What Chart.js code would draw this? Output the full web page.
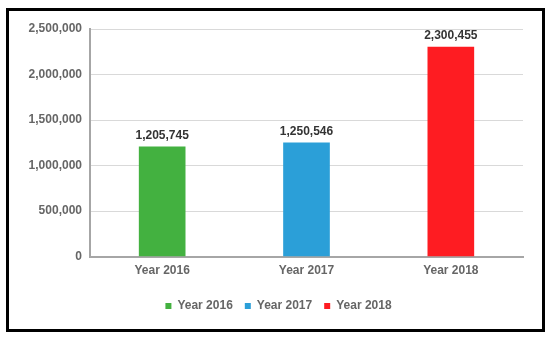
<!DOCTYPE html>
<html>
<head>
<meta charset="utf-8">
<script src="https://cdn.jsdelivr.net/npm/chart.js@4"></script>
<style>
html,body{margin:0;padding:0;background:#fff;}
#wrap{position:relative;width:550px;height:339px;}
#frame{position:absolute;left:6px;top:8px;width:533px;height:318px;border:3px solid #000;pointer-events:none;}
canvas{position:absolute;left:0;top:0;}
</style>
</head>
<body>
<div id="wrap">
<canvas id="c" width="550" height="339"></canvas>
<div id="frame"></div>
</div>
<script>
const categories = ["Year 2016", "Year 2017", "Year 2018"];
const seriesNames = ["Year 2016", "Year 2017", "Year 2018"];
const values = [1205745, 1250546, 2300455];
const colors = ["#43b140", "#2b9fd8", "#fe1c22"];
const yTicks = [0, 500000, 1000000, 1500000, 2000000, 2500000];

const fontFamily = "'Liberation Sans', Arial, sans-serif";
const fmt = v => v.toLocaleString('en-US');

const datasets = seriesNames.map((name, i) => ({
  label: name,
  data: categories.map((c, j) => j === i ? values[i] : null),
  backgroundColor: colors[i],
  borderWidth: 0,
  barThickness: 46,
  grouped: false
}));

const valueLabels = {
  id: 'valueLabels',
  afterDatasetsDraw(chart) {
    const ctx = chart.ctx;
    ctx.save();
    ctx.font = "bold 12px " + fontFamily;
    ctx.fillStyle = "#333";
    ctx.textAlign = "center";
    ctx.textBaseline = "bottom";
    chart.data.datasets.forEach((ds, i) => {
      const meta = chart.getDatasetMeta(i);
      meta.data.forEach((bar, j) => {
        const v = ds.data[j];
        if (v == null) return;
        ctx.fillText(fmt(v), bar.x, bar.y - 5);
      });
    });
    ctx.restore();
  }
};

const shiftLegend = {
  id: 'shiftLegend',
  afterLayout(chart) {
    if (chart.legend) { chart.legend.left += 17; chart.legend.right += 17; }
  }
};

new Chart(document.getElementById('c'), {
  type: 'bar',
  data: { labels: categories, datasets },
  options: {
    responsive: false,
    animation: false,
    layout: { padding: { left: 0, right: 27, top: 29, bottom: 17 } },
    plugins: {
      legend: {
        position: 'bottom',
        labels: {
          boxWidth: 6, boxHeight: 6, padding: 12,
          color: '#666',
          font: { family: fontFamily, size: 12, weight: 'bold' }
        }
      },
      tooltip: { enabled: false },
      title: { display: false }
    },
    scales: {
      x: {
        afterFit(scale) { scale.height += 3; },
        grid: { display: false, drawTicks: false },
        border: { color: '#a6a6a6', width: 2 },
        ticks: { color: '#666', padding: 7, font: { family: fontFamily, size: 12, weight: 'bold' } }
      },
      y: {
        min: 0, max: 2500000,
        afterFit(scale) { scale.width = 90; },
        afterBuildTicks(scale) { scale.ticks = yTicks.map(v => ({ value: v })); },
        grid: { color: '#d9d9d9', drawTicks: false, lineWidth: 1 },
        border: { color: '#a6a6a6', width: 2 },
        ticks: {
          color: '#666', padding: 8,
          font: { family: fontFamily, size: 12, weight: 'bold' },
          callback: v => fmt(v)
        }
      }
    }
  },
  plugins: [valueLabels, shiftLegend]
});
</script>
</body>
</html>
